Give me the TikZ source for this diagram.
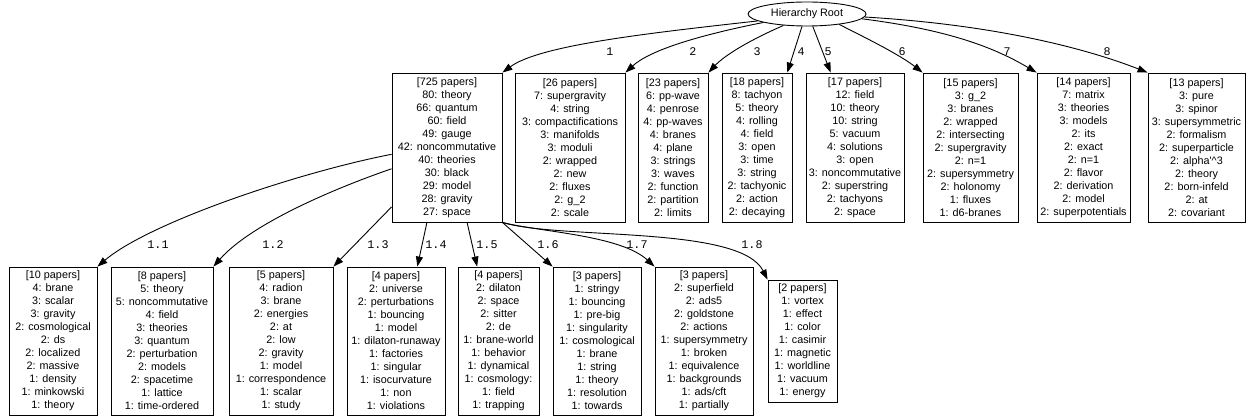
\documentclass[tikz,border=0pt]{standalone}
\usepackage{fontspec}
\setmainfont{Liberation Sans}
\newfontfamily\lblfont{Liberation Mono}
\usetikzlibrary{arrows.meta,shapes.geometric}
\begin{document}
\begin{tikzpicture}[x=1pt,y=-1pt,
  box/.style={draw, rectangle, line width=0.9pt, inner sep=0pt, align=center,
    font=\fontsize{10.8}{13}\selectfont, minimum height=149pt},
  lowbox/.style={box, minimum height=148pt},
  rootnode/.style={draw, ellipse, line width=0.9pt, inner sep=0pt,
    minimum width=118pt, minimum height=24pt, font=\fontsize{10.8}{13}\selectfont},
  edge/.style={draw, line width=0.9pt, -{Triangle[length=10pt,width=7pt]}},
  elab/.style={font=\lblfont\fontsize{11.7}{13}\selectfont, inner sep=0pt},
]
\useasboundingbox (0,0) rectangle (1252,419);

\node[rootnode] (root) at (807,14) {Hierarchy Root};

% top row
\node[box, minimum width=110pt] (b1) at (447,147.5) {[725 papers]\\80: theory\\66: quantum\\60: field\\49: gauge\\42: noncommutative\\40: theories\\30: black\\29: model\\28: gravity\\27: space};
\node[box, minimum width=110pt] (b2) at (570,147.5) {[26 papers]\\7: supergravity\\4: string\\3: compactifications\\3: manifolds\\3: moduli\\2: wrapped\\2: new\\2: fluxes\\2: g\_2\\2: scale};
\node[box, minimum width=70pt] (b3) at (673,147.5) {[23 papers]\\6: pp-wave\\4: penrose\\4: pp-waves\\4: branes\\4: plane\\3: strings\\3: waves\\2: function\\2: partition\\2: limits};
\node[box, minimum width=70pt] (b4) at (757,147.5) {[18 papers]\\8: tachyon\\5: theory\\4: rolling\\4: field\\3: open\\3: time\\3: string\\2: tachyonic\\2: action\\2: decaying};
\node[box, minimum width=98pt] (b5) at (855,147.5) {[17 papers]\\12: field\\10: theory\\10: string\\5: vacuum\\4: solutions\\3: open\\3: noncommutative\\2: superstring\\2: tachyons\\2: space};
\node[box, minimum width=95pt] (b6) at (970.5,147.5) {[15 papers]\\3: g\_2\\3: branes\\2: wrapped\\2: intersecting\\2: supergravity\\2: n=1\\2: supersymmetry\\2: holonomy\\1: fluxes\\1: d6-branes};
\node[box, minimum width=93pt] (b7) at (1083.5,147.5) {[14 papers]\\7: matrix\\3: theories\\3: models\\2: its\\2: exact\\2: n=1\\2: flavor\\2: derivation\\2: model\\2: superpotentials};
\node[box, minimum width=97pt] (b8) at (1196.5,147.5) {[13 papers]\\3: pure\\3: spinor\\3: supersymmetric\\2: formalism\\2: superparticle\\2: alpha\textquotesingle\textasciicircum 3\\2: theory\\2: born-infeld\\2: at\\2: covariant};

% bottom row
\node[lowbox, minimum width=88pt] (c1) at (53,341) {[10 papers]\\4: brane\\3: scalar\\3: gravity\\2: cosmological\\2: ds\\2: localized\\2: massive\\1: density\\1: minkowski\\1: theory};
\node[lowbox, minimum width=102pt] (c2) at (162,341) {[8 papers]\\5: theory\\5: noncommutative\\4: field\\3: theories\\3: quantum\\2: perturbation\\2: models\\2: spacetime\\1: lattice\\1: time-ordered};
\node[lowbox, minimum width=104pt] (c3) at (281,341) {[5 papers]\\4: radion\\3: brane\\2: energies\\2: at\\2: low\\2: gravity\\1: model\\1: correspondence\\1: scalar\\1: study};
\node[lowbox, minimum width=98pt] (c4) at (396,341) {[4 papers]\\2: universe\\2: perturbations\\1: bouncing\\1: model\\1: dilaton-runaway\\1: factories\\1: singular\\1: isocurvature\\1: non\\1: violations};
\node[lowbox, minimum width=81pt] (c5) at (498.5,341) {[4 papers]\\2: dilaton\\2: space\\2: sitter\\2: de\\1: brane-world\\1: behavior\\1: dynamical\\1: cosmology:\\1: field\\1: trapping};
\node[lowbox, minimum width=88pt] (c6) at (597,341) {[3 papers]\\1: stringy\\1: bouncing\\1: pre-big\\1: singularity\\1: cosmological\\1: brane\\1: string\\1: theory\\1: resolution\\1: towards};
\node[lowbox, minimum width=98pt] (c7) at (704,341) {[3 papers]\\2: superfield\\2: ads5\\2: goldstone\\2: actions\\1: supersymmetry\\1: broken\\1: equivalence\\1: backgrounds\\1: ads/cft\\1: partially};
\node[box, minimum width=69pt, minimum height=122pt] (c8) at (802.5,341) {[2 papers]\\1: vortex\\1: effect\\1: color\\1: casimir\\1: magnetic\\1: worldline\\1: vacuum\\1: energy};

% edges from root
\draw[edge] (root.188) .. controls (650,33) and (540,45) .. (b1.north east);
\draw[edge] (root.191) .. controls (700,35) and (650,50) .. (b2.north east);
\draw[edge] (root.206) .. controls (750,40) and (725,55) .. (b3.north east);
\draw[edge] (root.248) -- (b4.68.7);
\draw[edge] (root.295) -- (b5.108.6);
\draw[edge] (root.342) .. controls (870,40) and (900,55) .. (b6.north west);
\draw[edge] (root.355) .. controls (950,30) and (995,48) .. (b7.north west);
\draw[edge] (root.357) .. controls (1000,25) and (1090,50) .. (b8.north west);

\node[elab] (l1) at (610,52) {1};
\node[elab] (l2) at (693,52) {2};
\node[elab] (l3) at (757,52) {3};
\node[elab] (l4) at (801,52) {4};
\node[elab] (l5) at (828,52) {5};
\node[elab] (l6) at (902,52) {6};
\node[elab] (l7) at (1007,52) {7};
\node[elab] (l8) at (1107,52) {8};

% edges from first cluster
\draw[edge] (b1.187.8) .. controls (300,172) and (150,222) .. (c1.north east);
\draw[edge] (b1.201.4) .. controls (330,190) and (250,225) .. (c2.north east);
\draw[edge] (b1.227.7) -- (c3.north east);
\draw[edge] (b1.255) -- (c4.74.2);
\draw[edge] (b1.285) -- (c5.106.2);
\draw[edge] (b1.south east) -- (c6.north west);
\draw[edge] (b1.south east) .. controls (540,232) and (620,235) .. (c7.north west);
\draw[edge] (b1.south east) .. controls (560,240) and (740,225) .. (c8.north west);

\node[elab] (m1) at (158,245) {1.1};
\node[elab] (m2) at (273,245) {1.2};
\node[elab] (m3) at (378,245) {1.3};
\node[elab] (m4) at (436,245) {1.4};
\node[elab] (m5) at (487,245) {1.5};
\node[elab] (m6) at (548,245) {1.6};
\node[elab] (m7) at (637,245) {1.7};
\node[elab] (m8) at (752,245) {1.8};
\end{tikzpicture}
\end{document}
